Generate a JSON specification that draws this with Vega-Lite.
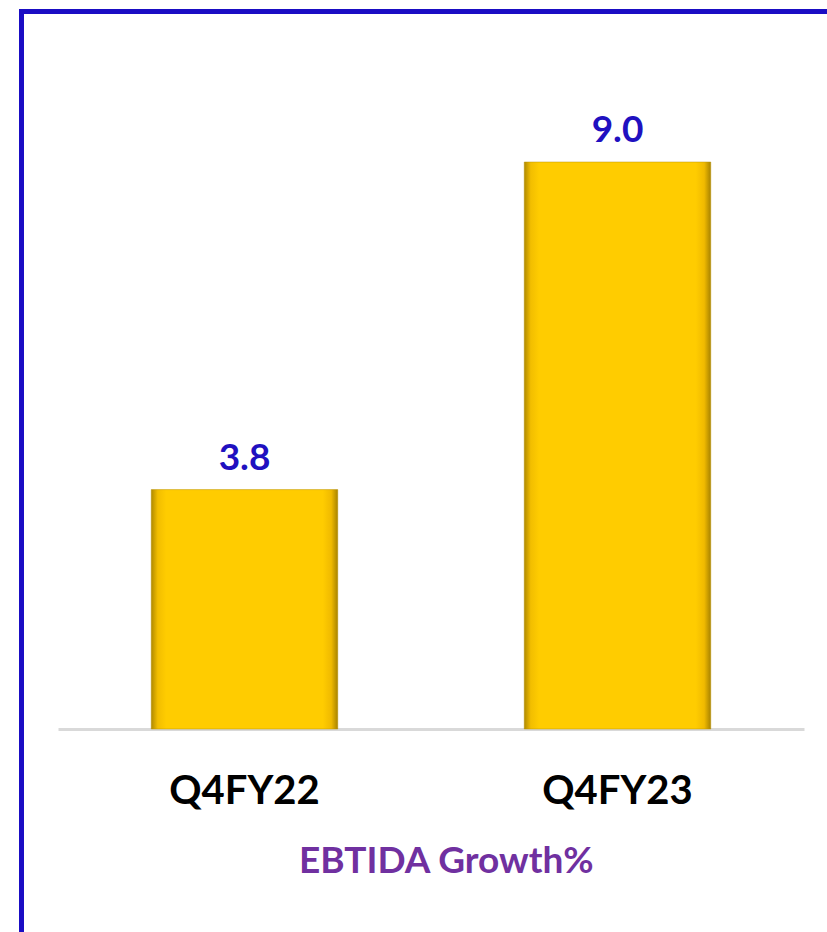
{
  "$schema": "https://vega.github.io/schema/vega-lite/v6.json",
  "autosize": "none",
  "padding": {"left": 21.5, "top": 11.5, "right": 0, "bottom": 0},
  "width": 805.5,
  "height": 920.5,
  "background": "white",
  "config": {"view": {"stroke": "#1A0DC4", "strokeWidth": 5, "strokeDash": [805.5, 1726, 920.5, 0.01]}, "font": "Lato"},
  "title": {"text": "EBTIDA Growth%", "orient": "bottom", "offset": -70, "baseline": "middle", "dx": 22, "color": "#7030A0", "fontSize": 37, "font": "Lato", "fontWeight": "bold"},
  "data": {"values": [{"quarter": "Q4FY22", "growth": 3.8}, {"quarter": "Q4FY23", "growth": 9.0}]},
  "encoding": {
    "x": {"field": "quarter", "type": "nominal", "sort": null,
      "scale": {"range": [36.5, 782.5], "paddingInner": 0.5, "paddingOuter": 0.25},
      "axis": {"title": null, "orient": "bottom", "offset": -203, "domainColor": "#D9D9D9", "domainWidth": 3, "ticks": false, "labelAngle": 0, "labelFont": "Lato", "labelFontSize": 40, "labelFontWeight": "bold", "labelColor": "#000000", "labelPadding": 42, "grid": false}},
    "y": {"field": "growth", "type": "quantitative", "scale": {"domain": [0, 10], "range": [717.5, 87.5]}, "axis": null}
  },
  "layer": [
    {"mark": {"type": "bar", "clip": false, "stroke": "#B89000", "strokeWidth": 0.8, "strokeOpacity": 0.6,
      "color": {"gradient": "linear", "x1": 0, "y1": 0, "x2": 1, "y2": 0, "stops": [
        {"offset": 0, "color": "#B08A00"}, {"offset": 0.035, "color": "#F2BE00"}, {"offset": 0.08, "color": "#FFCC00"}, {"offset": 0.92, "color": "#FFCC00"}, {"offset": 0.965, "color": "#F0BA00"}, {"offset": 1, "color": "#A88300"}]}}},
    {"mark": {"type": "text", "baseline": "alphabetic", "align": "center", "dy": -20, "font": "Lato", "fontSize": 37, "fontWeight": "bold", "color": "#2010C0"},
      "encoding": {"text": {"field": "growth", "type": "quantitative", "format": ".1f"}}}
  ]
}
